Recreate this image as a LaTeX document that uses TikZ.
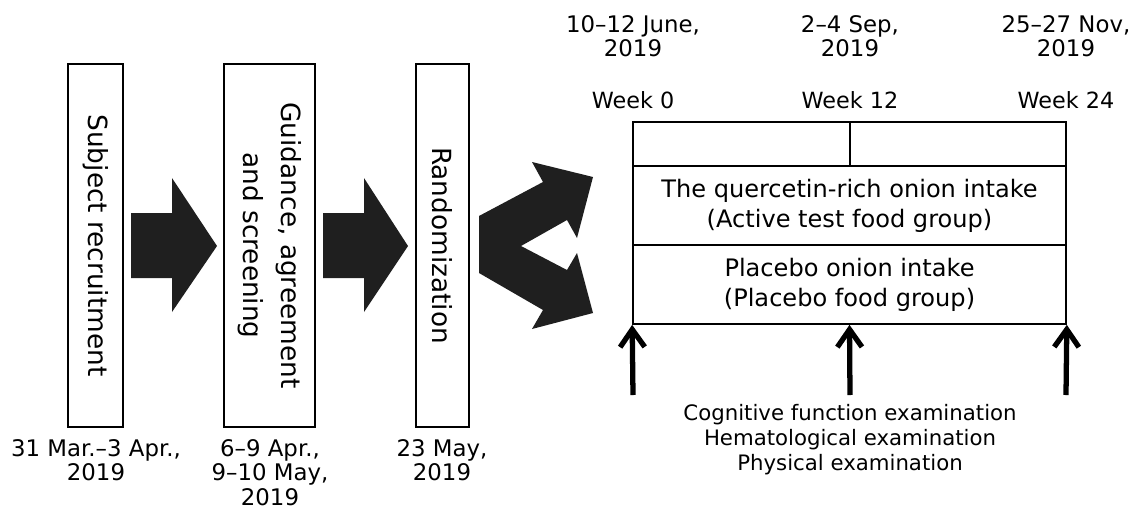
\documentclass[tikz,border=0pt]{standalone}
\usepackage{fontspec}
\setmainfont{DejaVu Sans}
\usetikzlibrary{arrows.meta}

\tikzset{
  stage/.style={draw, line width=1pt, inner sep=0pt, align=center, font=\fontsize{15}{21.6}\selectfont},
  cell/.style={draw, line width=1pt, inner sep=0pt, align=center, font=\fontsize{13.7}{17}\selectfont},
  label/.style={align=center, inner sep=0pt, font=\fontsize{13}{13.8}\selectfont},
  blockarrow/.style={fill=black!88, draw=none},
  exam/.style={line width=3pt, -{Straight Barb[length=10pt, width=14pt, line width=3pt]}}
}

\begin{document}
\begin{tikzpicture}[x=0.02cm, y=-0.02cm]
  \useasboundingbox (0,0) rectangle (1130,511);

  % Stages before the trial
  \node[stage, rotate=-90, minimum width=7.26cm, minimum height=1.1cm] (recruit) at (95.5,245.5) {Subject recruitment};
  \node[stage, rotate=-90, minimum width=7.26cm, minimum height=1.82cm] (screen) at (269.5,245.5) {Guidance, agreement\\and screening};
  \node[stage, rotate=-90, minimum width=7.26cm, minimum height=1.06cm] (random) at (442.5,245.5) {Randomization};

  \node[label, anchor=north, font=\fontsize{13}{14}\selectfont] (d1) at (96,439) {31 Mar.–3 Apr.,\\2019};
  \node[label, anchor=north, font=\fontsize{13}{14}\selectfont] (d2) at (270,439) {6–9 Apr.,\\9–10 May,\\2019};
  \node[label, anchor=north, font=\fontsize{13}{14}\selectfont] (d3) at (442,439) {23 May,\\2019};

  % Block arrows
  \fill[blockarrow] (131,213) -- (172,213) -- (172,178) -- (217,246) -- (172,312) -- (172,278) -- (131,278) -- cycle;
  \fill[blockarrow] (323,213) -- (364,213) -- (364,178) -- (408,246) -- (364,312) -- (364,278) -- (323,278) -- cycle;
  \fill[blockarrow] (479,216) -- (543,182) -- (532,162) -- (593,177) -- (577,238) -- (567,220) -- (521,246)
    -- (567,270) -- (577,253) -- (593,313) -- (532,329) -- (543,310) -- (479,273) -- cycle;

  % Trial period
  \node[cell, minimum width=4.34cm, minimum height=0.88cm] (first) at (741.5,144) {};
  \node[cell, minimum width=4.32cm, minimum height=0.88cm] (second) at (958,144) {};
  \node[cell, minimum width=8.66cm, minimum height=1.58cm] (active) at (849.5,205.5) {The quercetin-rich onion intake\\(Active test food group)};
  \node[cell, minimum width=8.66cm, minimum height=1.58cm] (placebo) at (849.5,284.5) {Placebo onion intake\\(Placebo food group)};

  \node[label, font=\fontsize{12.7}{14}\selectfont] (w0) at (633,100) {Week 0};
  \node[label, font=\fontsize{12.7}{14}\selectfont] (w12) at (850,100) {Week 12};
  \node[label, font=\fontsize{12.7}{14}\selectfont] (w24) at (1066,100) {Week 24};
  \node[label] (t0) at (633,36) {10–12 June,\\2019};
  \node[label] (t12) at (850,36) {2–4 Sep,\\2019};
  \node[label] (t24) at (1066,36) {25–27 Nov,\\2019};

  % Examinations
  \coordinate (e0) at (633,395);
  \coordinate (e12) at (850,395);
  \coordinate (e24) at (1066,395);
  \draw[exam] (e0) -- (placebo.south west);
  \draw[exam] (e12) -- (placebo.south);
  \draw[exam] (e24) -- (placebo.south east);
  \node[label, font=\fontsize{12.1}{14.2}\selectfont] (tests) at (850,440) {Cognitive function examination\\Hematological examination\\Physical examination};
\end{tikzpicture}
\end{document}
